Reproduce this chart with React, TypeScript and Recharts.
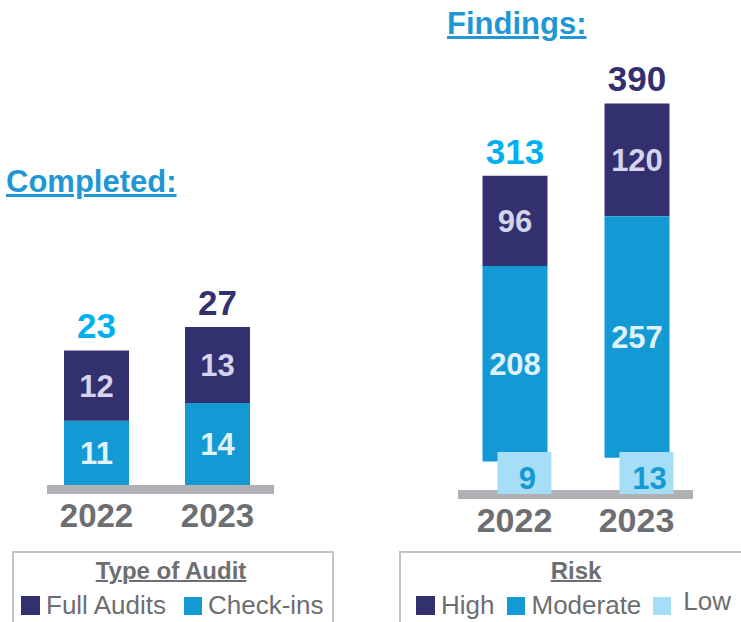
import { Bar, BarChart, LabelList, XAxis, YAxis } from "recharts";

const YEARS = ["2022", "2023"];
const CHECK_INS = [11, 14];
const FULL_AUDITS = [12, 13];
const LOW = [9, 13];
const MODERATE = [208, 257];
const HIGH = [96, 120];

const FONT = '"Liberation Sans", Arial, sans-serif';
const NAVY = "#33306f";
const BLUE = "#1399d3";
const LIGHT = "#a6ddf7";
const CYAN = "#00b0f0";
const GREY_TEXT = "#6d6e71";
const GREY_LINE = "#b1b1b5";
const TITLE = "#1f97d4";
const TOTAL_COLORS = [CYAN, NAVY];

const auditData = YEARS.map((year, i) => ({
  year,
  checkIns: CHECK_INS[i],
  fullAudits: FULL_AUDITS[i],
  total: CHECK_INS[i] + FULL_AUDITS[i],
}));

const riskData = YEARS.map((year, i) => ({
  year,
  low: LOW[i],
  moderate: MODERATE[i],
  high: HIGH[i],
  total: LOW[i] + MODERATE[i] + HIGH[i],
}));

function renderTotal(props: any) {
  const vb = props.viewBox ?? props;
  const idx = props.index ?? 0;
  return (
    <text
      x={vb.x + vb.width / 2}
      y={vb.y - 12}
      textAnchor="middle"
      fill={TOTAL_COLORS[idx % TOTAL_COLORS.length]}
      fontSize={35}
      fontWeight={700}
      fontFamily={FONT}
    >
      {props.value}
    </text>
  );
}

// low findings are shown as a small label box sitting on the baseline
function LowBox(props: any) {
  const { x, y, width, height, payload } = props;
  const base = y + height;
  const bx = x + width * 0.23;
  const bw = width * 0.83;
  return (
    <g>
      <rect x={bx} y={base - 18} width={bw} height={42} fill={LIGHT} />
      <text
        x={bx + bw / 2 + 3}
        y={base + 19}
        textAnchor="middle"
        fill={BLUE}
        fontSize={31}
        fontWeight={700}
        fontFamily={FONT}
      >
        {payload.low}
      </text>
    </g>
  );
}

const segLabel = (fill: string) => ({
  fill,
  fontSize: 31,
  fontWeight: 700,
  fontFamily: FONT,
});

function Square({ color, size = 19 }: { color: string; size?: number }) {
  return (
    <span
      style={{
        display: "inline-block",
        width: size,
        height: size,
        background: color,
        marginRight: 6,
        verticalAlign: "-1px",
      }}
    />
  );
}

export default function App() {
  return (
    <div
      style={{
        position: "absolute",
        left: 0,
        top: 0,
        width: 741,
        height: 622,
        overflow: "hidden",
        background: "#fff",
        fontFamily: FONT,
      }}
    >
      <div
        style={{
          position: "absolute",
          left: 6,
          top: 164,
          fontSize: 31,
          lineHeight: "36px",
          fontWeight: 700,
          color: TITLE,
          textDecoration: "underline",
          textDecorationThickness: 3,
        }}
      >
        Completed:
      </div>
      <div
        style={{
          position: "absolute",
          left: 447,
          top: 6,
          fontSize: 31,
          lineHeight: "36px",
          fontWeight: 700,
          color: TITLE,
          textDecoration: "underline",
          textDecorationThickness: 3,
        }}
      >
        Findings:
      </div>

      <div style={{ position: "absolute", left: 47, top: 485, width: 227, height: 9, background: GREY_LINE }} />
      <div style={{ position: "absolute", left: 458, top: 490, width: 235, height: 9, background: GREY_LINE }} />

      <div style={{ position: "absolute", left: 0, top: 0 }}>
        <BarChart
          width={370}
          height={540}
          data={auditData}
          margin={{ top: 251, right: 92, bottom: 15, left: 36 }}
          style={{ fontFamily: FONT }}
        >
          <XAxis
            dataKey="year"
            axisLine={false}
            tickLine={false}
            height={40}
            tickMargin={13}
            tick={{ fill: GREY_TEXT, fontSize: 33, fontWeight: 700, fontFamily: FONT }}
          />
          <YAxis hide domain={[0, 40]} />
          <Bar dataKey="checkIns" stackId="a" fill={BLUE} barSize={65} isAnimationActive={false}>
            <LabelList dataKey="checkIns" position="center" {...segLabel("#e0f2fb")} />
          </Bar>
          <Bar dataKey="fullAudits" stackId="a" fill={NAVY} barSize={65} isAnimationActive={false}>
            <LabelList dataKey="fullAudits" position="center" {...segLabel("#d4d4ea")} />
            <LabelList dataKey="total" content={renderTotal} />
          </Bar>
        </BarChart>
      </div>

      <div style={{ position: "absolute", left: 370, top: 0 }}>
        <BarChart
          width={371}
          height={560}
          data={riskData}
          reverseStackOrder
          margin={{ top: 94, right: 43.5, bottom: 10, left: 83.5 }}
          style={{ fontFamily: FONT }}
        >
          <XAxis
            dataKey="year"
            axisLine={false}
            tickLine={false}
            height={80}
            tickMargin={32}
            tick={{ fill: GREY_TEXT, fontSize: 34, fontWeight: 700, fontFamily: FONT }}
          />
          <YAxis hide domain={[0, 400]} />
          <Bar dataKey="high" stackId="r" fill={NAVY} barSize={65} isAnimationActive={false}>
            <LabelList dataKey="high" position="center" {...segLabel("#d4d4ea")} />
            <LabelList dataKey="total" content={renderTotal} />
          </Bar>
          <Bar dataKey="moderate" stackId="r" fill={BLUE} barSize={65} isAnimationActive={false}>
            <LabelList dataKey="moderate" position="center" {...segLabel("#e0f2fb")} />
          </Bar>
          <Bar dataKey="low" stackId="r" fill={LIGHT} barSize={65} shape={LowBox} isAnimationActive={false} />
        </BarChart>
      </div>

      <div
        style={{
          position: "absolute",
          left: 12,
          top: 551,
          width: 318,
          height: 90,
          border: "2px solid #c4c4c4",
        }}
      />
      <div
        style={{
          position: "absolute",
          left: 10,
          top: 557,
          width: 322,
          textAlign: "center",
          fontSize: 24,
          lineHeight: "28px",
          fontWeight: 700,
          color: GREY_TEXT,
          textDecoration: "underline",
          textDecorationThickness: 2,
        }}
      >
        Type of Audit
      </div>
      <div
        style={{
          position: "absolute",
          left: 21,
          top: 590,
          fontSize: 26,
          lineHeight: "30px",
          color: GREY_TEXT,
          whiteSpace: "nowrap",
        }}
      >
        <Square color={NAVY} />
        <span style={{ marginRight: 18 }}>Full Audits</span>
        <Square color={BLUE} size={18} />
        <span>Check-ins</span>
      </div>

      <div
        style={{
          position: "absolute",
          left: 399,
          top: 551,
          width: 400,
          height: 90,
          border: "2px solid #c4c4c4",
        }}
      />
      <div
        style={{
          position: "absolute",
          left: 476,
          top: 557,
          width: 200,
          textAlign: "center",
          fontSize: 24,
          lineHeight: "28px",
          fontWeight: 700,
          color: GREY_TEXT,
          textDecoration: "underline",
          textDecorationThickness: 2,
        }}
      >
        Risk
      </div>
      <div
        style={{
          position: "absolute",
          left: 416,
          top: 590,
          fontSize: 26,
          lineHeight: "30px",
          color: GREY_TEXT,
          whiteSpace: "nowrap",
        }}
      >
        <Square color={NAVY} />
        <span style={{ marginRight: 13 }}>High</span>
        <Square color={BLUE} size={18} />
        <span style={{ marginRight: 12 }}>Moderate</span>
        <Square color={LIGHT} size={18} />
        <span style={{ position: "relative", top: -4, marginLeft: 6 }}>Low</span>
      </div>
    </div>
  );
}
